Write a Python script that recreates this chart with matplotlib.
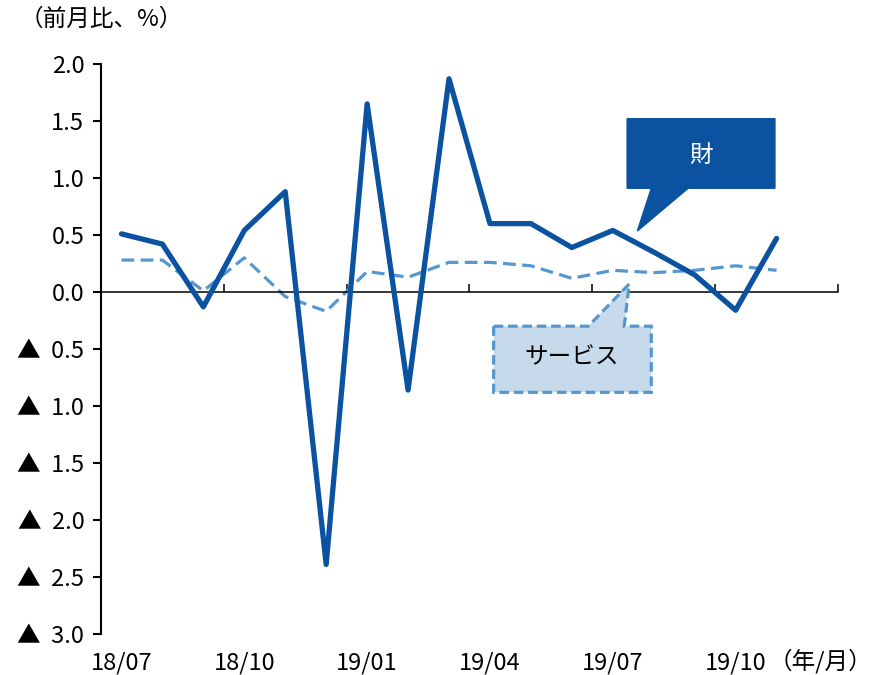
import numpy as np
import matplotlib.pyplot as plt
from matplotlib.patches import Polygon

plt.rcParams['font.family'] = ['Noto Sans CJK JP', 'DejaVu Sans']

# 月（18/07〜19/11）
months = ['18/07', '18/08', '18/09', '18/10', '18/11', '18/12',
          '19/01', '19/02', '19/03', '19/04', '19/05', '19/06',
          '19/07', '19/08', '19/09', '19/10', '19/11']
goods = [0.51, 0.42, -0.13, 0.54, 0.88, -2.39, 1.65, -0.86, 1.87,
         0.60, 0.60, 0.39, 0.54, 0.35, 0.15, -0.16, 0.47]
services = [0.28, 0.28, 0.01, 0.30, -0.04, -0.17, 0.18, 0.13, 0.26,
            0.26, 0.23, 0.12, 0.19, 0.17, 0.19, 0.23, 0.19]

yticks = [2.0, 1.5, 1.0, 0.5, 0.0, -0.5, -1.0, -1.5, -2.0, -2.5, -3.0]
label_every = 3

dark = '#0B52A0'
light = '#5597CF'
fill_light = '#C6DAEC'
fs = 17

fig = plt.figure(figsize=(8.72, 6.75), dpi=100)
ax = fig.add_axes([0.1158, 0.0607, 0.8452, 0.8445])

x = np.arange(len(months))
ax.plot(x, goods, color=dark, lw=3.8, solid_capstyle='round', zorder=3)
ax.plot(x, services, color=light, lw=2.3, dashes=(4, 2), zorder=2)

ax.set_xlim(-0.5, len(months) + 0.5)
ax.set_ylim(-3.0, 2.0)

# 軸
for s in ['top', 'right']:
    ax.spines[s].set_visible(False)
ax.spines['left'].set_linewidth(1.5)
ax.spines['bottom'].set_position(('data', 0))
ax.spines['bottom'].set_linewidth(1.1)

ax.set_yticks(yticks)
ax.set_yticklabels([f'{v:.1f}' if v >= 0 else f'▲  {-v:.1f}' for v in yticks],
                   fontsize=fs)
ax.tick_params(axis='y', direction='out', length=6, width=1.5, pad=6)

ax.set_xticks(np.arange(-0.5, len(months) + 0.6, label_every))
ax.set_xticklabels([])
ax.tick_params(axis='x', direction='in', length=6, width=1.1)

for i in range(0, len(months), label_every):
    ax.text(i, -0.05, months[i], transform=ax.get_xaxis_transform(),
            ha='center', va='center', fontsize=fs)

fig.text(1.0, 0.021, '（年/月）', ha='right', va='center', fontsize=fs)
fig.text(0.022, 0.972, '（前月比、%）', ha='left', va='center', fontsize=fs)

# 吹き出し：財
goods_box = [(12.35, 1.52), (15.96, 1.52), (15.96, 0.91), (13.84, 0.91),
             (12.6, 0.535), (12.94, 0.91), (12.35, 0.91)]
ax.add_patch(Polygon(goods_box, closed=True, facecolor=dark,
                     edgecolor=dark, lw=1, zorder=4))
ax.text(14.15, 1.20, '財', color='white', ha='center', va='center',
        fontsize=fs, zorder=5)

# 吹き出し：サービス
serv_box = [(9.09, -0.30), (11.40, -0.30), (12.40, 0.07), (12.28, -0.30),
            (12.94, -0.30), (12.94, -0.88), (9.09, -0.88)]
ax.add_patch(Polygon(serv_box, closed=True, facecolor=fill_light,
                     edgecolor=light, lw=2.3, linestyle=(0, (3, 1.5)),
                     zorder=4))
ax.text(11.0, -0.58, 'サービス', color='black', ha='center', va='center',
        fontsize=fs, zorder=5)

fig.savefig('out.png', dpi=100)
